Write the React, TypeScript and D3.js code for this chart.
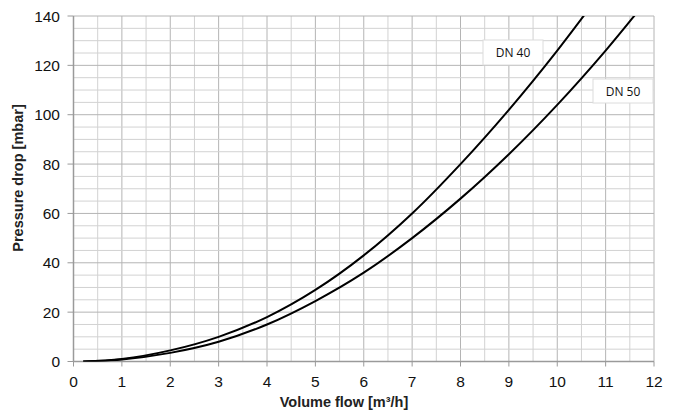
import React from "react";
import * as d3 from "d3";

const xTicks = [0, 1, 2, 3, 4, 5, 6, 7, 8, 9, 10, 11, 12];
const yTicks = [0, 20, 40, 60, 80, 100, 120, 140];

const dn40X = [0.2, 1, 2, 3, 4, 5, 6, 7, 8, 9, 10, 11];
const dn40Y = [0, 1, 4.5, 10, 18, 29, 43, 60, 80, 102, 126, 152];
const dn50X = [0.2, 1, 2, 3, 4, 5, 6, 7, 8, 9, 10, 11, 12];
const dn50Y = [0, 0.8, 3.5, 8, 15, 24.5, 36, 50, 66, 84, 104, 126, 150];

const series = [
  { name: "DN 40", xs: dn40X, ys: dn40Y },
  { name: "DN 50", xs: dn50X, ys: dn50Y },
];

const W = 680, H = 416;
const L = 73.5, R = 654, T = 16, B = 361.5;

export default function App() {
  const x = d3.scaleLinear().domain([0, 12]).range([L, R]);
  const y = d3.scaleLinear().domain([0, 140]).range([B, T]);
  const minorX = d3.range(0, 12.01, 0.5);
  const minorY = d3.range(0, 140.01, 5);
  const line = d3
    .line<[number, number]>()
    .x((d) => x(d[0]))
    .y((d) => y(d[1]))
    .curve(d3.curveCatmullRom.alpha(0.5));
  return (
    <svg width={W} height={H} style={{ position: "absolute", left: 0, top: 0, background: "#fff" }}>
      <defs>
        <clipPath id="plot">
          <rect x={L} y={T} width={R - L} height={B - T} />
        </clipPath>
      </defs>
      <rect x={0} y={0} width={W} height={H} fill="#fff" />
      {minorX.map((v) => (
        <line key={"mx" + v} x1={x(v)} x2={x(v)} y1={T} y2={B}
          stroke={Number.isInteger(v) ? "#b4b4b4" : "#d2d2d2"} strokeWidth={1} />
      ))}
      {minorY.map((v) => (
        <line key={"my" + v} x1={L} x2={R} y1={y(v)} y2={y(v)}
          stroke={v % 20 === 0 ? "#b4b4b4" : "#d2d2d2"} strokeWidth={1} />
      ))}
      <line x1={L} x2={L} y1={T} y2={B} stroke="#9a9a9a" strokeWidth={1.5} />
      <line x1={L} x2={R} y1={B} y2={B} stroke="#9a9a9a" strokeWidth={1.5} />
      {yTicks.map((v) => (
        <g key={"yt" + v}>
          <line x1={L - 6} x2={L} y1={y(v)} y2={y(v)} stroke="#9a9a9a" />
          <text x={L - 13.5} y={y(v)} dy="0.36em" textAnchor="end"
            fontFamily="Liberation Sans, Arial, sans-serif" fontSize={15.5} fill="#111">{v}</text>
        </g>
      ))}
      {xTicks.map((v) => (
        <g key={"xt" + v}>
          <line x1={x(v)} x2={x(v)} y1={B} y2={B + 5} stroke="#9a9a9a" />
          <text x={x(v)} y={B + 25.5} textAnchor="middle"
            fontFamily="Liberation Sans, Arial, sans-serif" fontSize={15.5} fill="#111">{v}</text>
        </g>
      ))}
      <g clipPath="url(#plot)">
        {series.map((s) => (
          <path key={s.name}
            d={line(s.xs.map((v, i) => [v, s.ys[i]] as [number, number])) || ""}
            fill="none" stroke="#000" strokeWidth={2} />
        ))}
      </g>
      <g>
        <rect x={483} y={40} width={60} height={25} fill="#fff" stroke="#dcdcdc" />
        <text x={513} y={57} textAnchor="middle" fontFamily="Open Sans, sans-serif" fontSize={12} fill="#111">DN 40</text>
        <rect x={593} y={79} width={60} height={24} fill="#fff" stroke="#dcdcdc" />
        <text x={623} y={96} textAnchor="middle" fontFamily="Open Sans, sans-serif" fontSize={12} fill="#111">DN 50</text>
      </g>
      <text x={344} y={407} textAnchor="middle" fontFamily="Liberation Sans, Arial, sans-serif"
        fontSize={14.5} fontWeight="bold" fill="#222">Volume flow [m³/h]</text>
      <text transform={`translate(23, 178) rotate(-90)`} textAnchor="middle"
        fontFamily="Liberation Sans, Arial, sans-serif" fontSize={14.5} fontWeight="bold" fill="#222">Pressure drop [mbar]</text>
    </svg>
  );
}
